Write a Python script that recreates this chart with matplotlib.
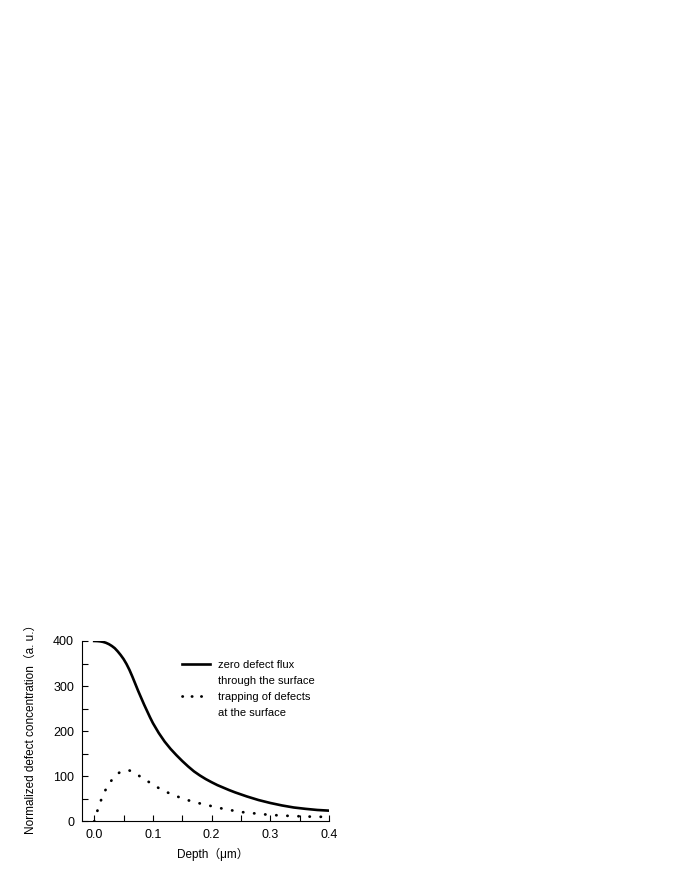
import matplotlib
matplotlib.use('Agg')
import matplotlib.pyplot as plt
from matplotlib.lines import Line2D
from matplotlib.ticker import MultipleLocator

plt.rcParams['font.family'] = ['Liberation Sans', 'Noto Sans CJK SC', 'DejaVu Sans']

# zero defect flux through the surface
depth_flux = [0.000, 0.005, 0.010, 0.015, 0.020, 0.025, 0.030, 0.035, 0.040,
              0.045, 0.050, 0.055, 0.060, 0.065, 0.070, 0.075, 0.080, 0.085,
              0.090, 0.095, 0.100, 0.110, 0.120, 0.130, 0.140, 0.150, 0.160,
              0.170, 0.180, 0.190, 0.200, 0.210, 0.220, 0.230, 0.240, 0.260,
              0.280, 0.300, 0.320, 0.340, 0.360, 0.380, 0.400]
conc_flux = [400, 399.8, 399.2, 398, 396, 393, 389, 384, 377,
             369, 360, 349, 336, 321, 305, 289, 274, 259,
             245, 231, 218, 196, 177, 161, 147, 134, 122,
             111, 102, 94, 87, 80.5, 75, 69.5, 64.5, 55.5,
             47.5, 41, 35.5, 31, 28, 25.5, 24]

# trapping of defects at the surface
depth_trap = [0.000, 0.005, 0.010, 0.015, 0.020, 0.025, 0.030, 0.035, 0.040,
              0.045, 0.050, 0.055, 0.060, 0.065, 0.070, 0.080, 0.090, 0.100,
              0.110, 0.120, 0.140, 0.160, 0.180, 0.200, 0.220, 0.250, 0.280,
              0.300, 0.330, 0.360, 0.400]
conc_trap = [0, 22, 42, 58, 72, 83, 92, 100, 106,
             110, 112.5, 113.5, 113, 110.5, 107, 98, 90, 82,
             74, 67, 56, 47, 40, 34, 28, 21, 17,
             14.5, 12.5, 11, 10]

labels = ['zero defect flux', 'through the surface',
          'trapping of defects', 'at the surface']

fig = plt.figure(figsize=(6.8, 8.8), dpi=100)
ax = fig.add_axes([0.1213, 0.0665, 0.3625, 0.2051])

dots = (0, (0.1, 3.9))
ax.plot(depth_flux, conc_flux, color='black', lw=1.9)
ax.plot(depth_trap, conc_trap, color='black', lw=2.0, linestyle=dots,
        dash_capstyle='round')

ax.set_xlim(-0.02, 0.4)
ax.set_ylim(0, 400)
ax.spines['top'].set_visible(False)
ax.spines['right'].set_visible(False)
for sp in ['left', 'bottom']:
    ax.spines[sp].set_linewidth(0.8)

ax.xaxis.set_major_locator(MultipleLocator(0.1))
ax.xaxis.set_minor_locator(MultipleLocator(0.05))
ax.yaxis.set_major_locator(MultipleLocator(100))
ax.yaxis.set_minor_locator(MultipleLocator(50))
ax.xaxis.set_major_formatter(lambda v, p: '%.1f' % v)
ax.tick_params(which='both', direction='in', width=0.8, length=4,
               labelsize=9)
ax.tick_params(axis='x', pad=5.5)
ax.tick_params(axis='y', pad=6)

ax.set_xlabel('Depth（μm）', fontsize=8.5)
ax.set_ylabel('Normalized defect concentration（a. u.）', fontsize=8.5)
ax.xaxis.set_label_coords(0.53, -0.147)
ax.yaxis.set_label_coords(-0.185, 0.528)

handles = [Line2D([], [], color='black', lw=1.9),
           Line2D([], [], color='none'),
           Line2D([], [], color='black', lw=2.0, linestyle=(0, (0.1, 3.3)),
                  dash_capstyle='round'),
           Line2D([], [], color='none')]
ax.legend(handles, labels, loc='upper left', bbox_to_anchor=(0.402, 0.895),
          frameon=False, fontsize=8, handlelength=2.6, handletextpad=0.7,
          labelspacing=0.55, borderpad=0, borderaxespad=0)

fig.savefig('out.png', dpi=100)
